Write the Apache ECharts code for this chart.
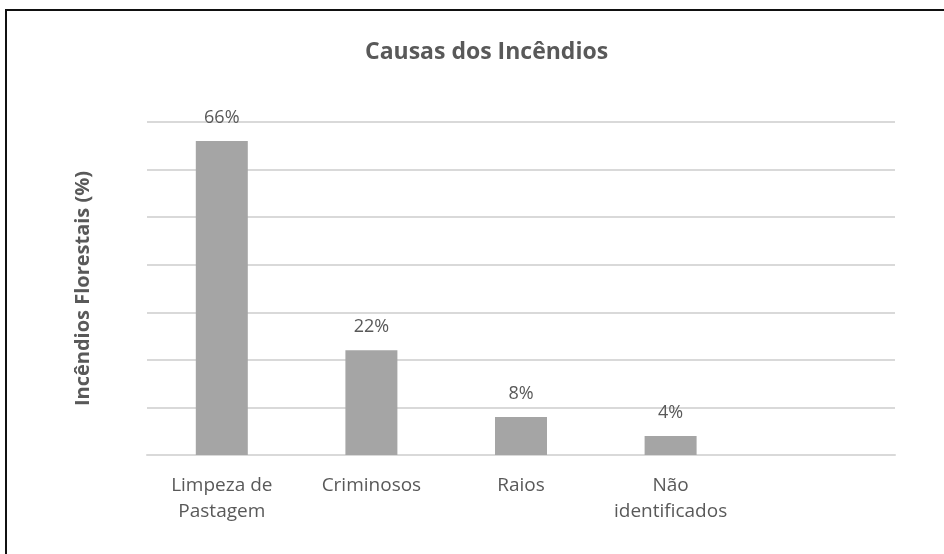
<!DOCTYPE html>
<html>
<head>
<meta charset="utf-8">
<script src="https://cdn.jsdelivr.net/npm/echarts@6/dist/echarts.min.js"></script>
<style>
  html, body { margin: 0; padding: 0; background: #fff; overflow: hidden; }
  #wrap { width: 944px; height: 554px; position: relative; overflow: hidden; }
  #main { position: absolute; left: 0; top: 0; width: 944px; height: 554px; }
  .frame {
    position: absolute; left: 5px; top: 9px; width: 960px; height: 560px;
    border-top: 2px solid #111; border-left: 2px solid #111;
    pointer-events: none; z-index: 10;
  }
</style>
</head>
<body>
<div id="wrap">
  <div id="main"></div>
  <div class="frame"></div>
</div>
<script>
// categories (last slot is empty in the original chart)
const categories = ['Limpeza de\nPastagem', 'Criminosos', 'Raios', 'Não\nidentificados', ''];
const values = [66, 22, 8, 4, null];

const chart = echarts.init(document.getElementById('main'));
const txt = '#595959';
const font = '"Open Sans", "Noto Sans", sans-serif';

chart.setOption({
  animation: false,
  textStyle: { fontFamily: font },
  title: {
    text: 'Causas dos Incêndios',
    left: 360,
    top: 36,
    textStyle: { color: txt, fontSize: 23, fontWeight: 'bold', fontFamily: font }
  },
  grid: { left: 147, right: 49, top: 122, bottom: 99 },
  xAxis: {
    type: 'category',
    data: categories,
    axisLine: { lineStyle: { color: '#d9d9d9', width: 2 } },
    axisTick: { show: false },
    axisLabel: { color: txt, fontSize: 19, margin: 18, lineHeight: 26, interval: 0 }
  },
  yAxis: {
    type: 'value',
    min: 0,
    max: 70,
    interval: 10,
    name: 'Incêndios Florestais (%)',
    nameLocation: 'middle',
    nameGap: 54,
    nameTextStyle: { color: txt, fontSize: 20, fontWeight: 'bold', fontFamily: font },
    axisLabel: { show: false },
    axisLine: { show: false },
    axisTick: { show: false },
    splitLine: { lineStyle: { color: '#d9d9d9', width: 2 } }
  },
  series: [{
    type: 'bar',
    data: values,
    barWidth: 52,
    itemStyle: { color: '#a5a5a5' },
    label: {
      show: true,
      position: 'top',
      distance: 14,
      color: txt,
      fontSize: 18,
      formatter: p => p.value + '%'
    }
  }]
});
</script>
</body>
</html>
